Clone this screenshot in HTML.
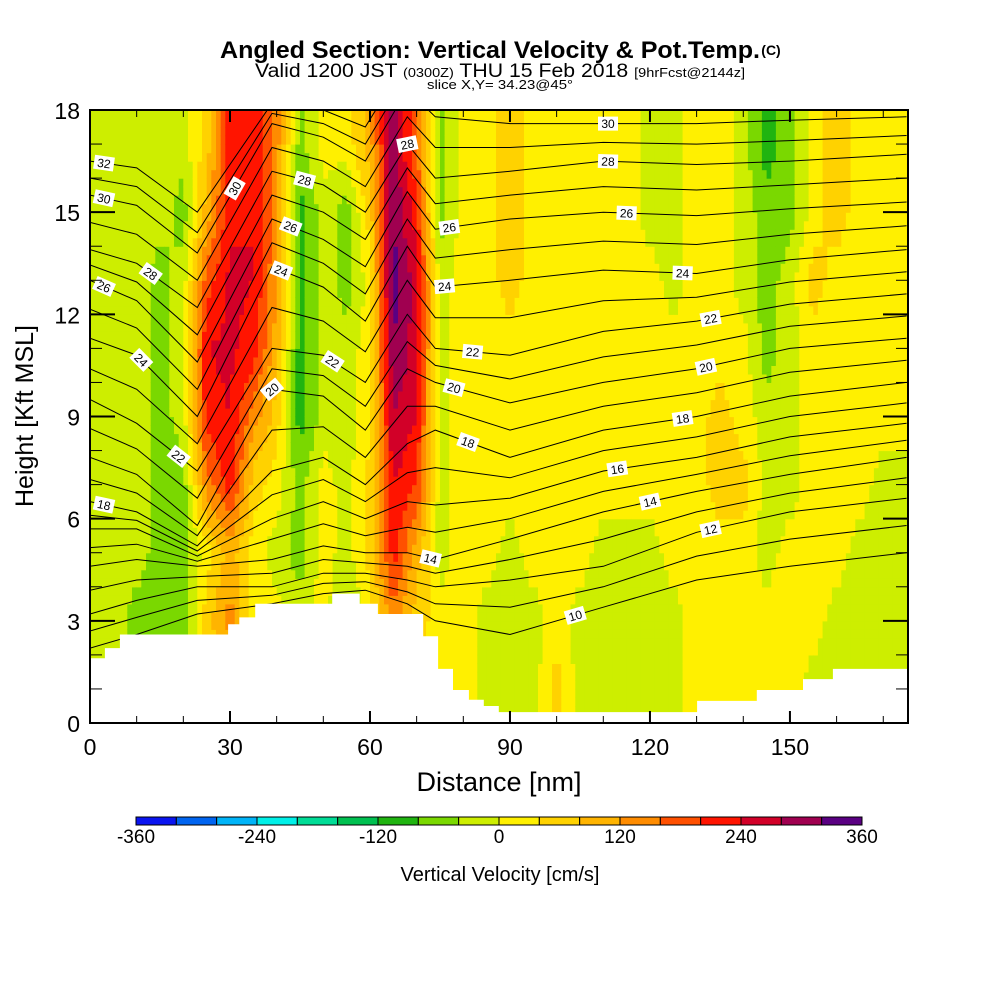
<!DOCTYPE html>
<html><head><meta charset="utf-8"><style>
body{margin:0;background:#fff;width:1000px;height:1000px;overflow:hidden;font-family:"Liberation Sans",sans-serif}
svg text{font-family:"Liberation Sans",sans-serif}
</style></head><body>
<svg id="chart" width="1000" height="1000" viewBox="0 0 1000 1000" xmlns="http://www.w3.org/2000/svg">
<rect width="1000" height="1000" fill="#fff"/>
<text x="490" y="58" font-size="24" font-weight="bold" text-anchor="middle" textLength="540" lengthAdjust="spacingAndGlyphs">Angled Section: Vertical Velocity &amp; Pot.Temp.</text>
<text x="771" y="55" font-size="14" font-weight="bold" text-anchor="middle">(C)</text>
<text x="500" y="77" font-size="19" text-anchor="middle" textLength="490" lengthAdjust="spacingAndGlyphs">Valid 1200 JST <tspan font-size="13">(0300Z)</tspan> THU 15 Feb 2018 <tspan font-size="13">[9hrFcst@2144z]</tspan></text>
<text x="500" y="89" font-size="13" text-anchor="middle" textLength="146" lengthAdjust="spacingAndGlyphs">slice X,Y= 34.23@45°</text>
<defs><clipPath id="pc"><rect x="90" y="110" width="818" height="613"/></clipPath></defs>
<g id="field" clip-path="url(#pc)"></g>
<g id="contours" clip-path="url(#pc)"></g>
<g id="terrain" clip-path="url(#pc)"></g>
<g id="labels" clip-path="url(#pc)"></g>
<rect x="90" y="110" width="818" height="613" fill="none" stroke="#000" stroke-width="2"/>
<g id="axes"></g>
<text x="499" y="791" font-size="27" text-anchor="middle">Distance [nm]</text>
<text x="0" y="0" font-size="25" text-anchor="middle" transform="translate(33,416) rotate(-90)">Height [Kft MSL]</text>
<g id="colorbar"></g>
<text x="500" y="881" font-size="20" text-anchor="middle">Vertical Velocity [cm/s]</text>
</svg>
<script>
// ---- data ----
const colX = [0,5,10,15,20,25,30,35,40,45,50,55,60,65,70,75,80,85,90,95,100,105,110,115,120,125,130,135,140,145,150,155,160,165,170,175];
const rowH = [1,3,5,7,9,11,13,15,17];
const wValues = [
[-20,-20,-20,-20,-20,-20,-20,-20,-20],
[-20,-20,-20,-20,-20,-20,-20,-20,-20],
[-60,-60,-20,-20,-20,-20,-20,-20,-20],
[-60,-60,-60,-60,-60,-60,-60,-20,-20],
[-60,-60,-60,-60,-20,-20,-20,-60,-20],
[20,60,20,140,220,240,180,100,60],
[60,140,100,220,240,250,250,230,220],
[20,20,20,60,140,220,240,240,240],
[20,20,-20,20,60,100,120,140,140],
[-20,-20,-60,-60,-100,-100,-100,-100,-60],
[20,20,20,20,-20,-20,-20,-20,20],
[-60,-60,-20,-20,-20,-20,-60,-60,20],
[20,20,60,60,20,20,20,60,100],
[60,140,220,240,280,320,340,320,300],
[20,60,100,200,240,260,260,220,160],
[20,20,-20,-20,-20,-20,-20,-60,-60],
[20,20,20,20,20,20,20,20,20],
[-20,-20,20,20,20,20,20,30,30],
[-20,-20,-20,20,20,20,60,60,60],
[-20,-20,20,20,20,20,20,30,30],
[60,20,20,20,20,20,20,20,20],
[-20,-20,20,20,20,20,20,20,20],
[-20,-20,-20,20,20,20,20,20,20],
[-20,-20,-20,20,20,20,20,20,20],
[-20,-20,-20,20,20,20,20,-20,-20],
[-20,-20,20,20,20,20,-20,-20,-20],
[20,20,20,20,20,20,20,20,20],
[20,20,20,60,60,20,20,20,20],
[20,20,20,60,20,20,-20,-20,-20],
[20,20,-20,-20,-20,-60,-60,-60,-100],
[20,20,20,-20,-20,-20,-20,-60,-60],
[-20,20,20,20,20,20,60,20,20],
[-20,-20,20,20,20,20,20,60,60],
[-20,-20,-20,20,20,20,20,20,30],
[-20,-20,-20,-20,20,20,20,20,20],
[-20,-20,-20,-20,20,20,20,20,20]];
const contourX = [0,10,23,39,50,59,68,74,90,110,130,150,175];
const thetaLevels = [32,30,28,26,24,22,20,18,16,14,12,10];
const thetaHeights = [
[16.5,16.3,15.0,18.2,18.0,17.5,19.5,19.5,19.2,19.2,19.2,19.2,19.2],
[15.5,15.2,13.8,17.6,17.2,16.5,18.6,17.8,17.6,17.6,17.6,17.7,17.8],
[13.9,13.5,12.2,16.2,15.8,15.0,17.0,16.0,16.2,16.5,16.4,16.5,16.7],
[13.0,12.4,10.6,14.8,14.2,13.4,15.6,14.5,14.8,15.0,14.9,15.1,15.3],
[11.3,10.8,9.0,13.4,12.8,11.8,14.0,12.8,13.0,13.3,13.2,13.6,13.9],
[9.5,8.8,7.4,11.0,10.8,10.0,12.0,11.0,10.8,11.5,11.8,12.3,12.6],
[7.8,7.3,5.8,9.8,9.6,8.6,10.4,10.0,9.4,10.0,10.4,11.0,11.3],
[6.5,6.2,5.2,7.4,7.8,7.0,8.2,8.6,7.8,8.6,9.0,9.6,10.0],
[5.7,5.7,4.9,6.0,6.5,6.0,6.5,6.4,6.6,7.4,7.8,8.4,8.8],
[4.6,4.8,4.6,4.8,5.2,5.0,5.0,4.8,5.4,6.2,6.8,7.3,7.8],
[3.2,3.6,4.0,4.0,4.4,4.4,4.2,4.0,4.2,4.6,5.6,6.2,6.6],
[2.2,2.6,3.2,3.5,3.8,3.9,3.5,3.0,2.6,3.4,4.2,4.6,5.0]];
const labelLevels = [32,30,28,26,24,22,18,30,28,26,24,20,22,28,26,24,22,20,18,14,30,28,26,24,22,20,18,16,14,12,10];
const labelX =      [3,3,13,3,11,19,3,31,46,43,41,39,52,68,77,76,82,78,81,73,111,111,115,127,133,132,127,113,120,133,104];
const terrainStartX = [0,3.2,6.4,29.6,32,35.4,51.9,57.8,61.7,71.4,74.6,77.8,81.2,84.4,87.6,130.1,142.9,152.8,159.2];
const terrainH =      [1.9,2.2,2.6,2.9,3.1,3.5,3.8,3.5,3.2,2.55,1.59,0.97,0.68,0.5,0.32,0.65,0.97,1.29,1.59];
const xTicks = [0,30,60,90,120,150];
const yTicks = [0,3,6,9,12,15,18];
const cbTicks = [-360,-240,-120,0,120,240,360];
const cbColors = ["#0a14f0","#0064f0","#00b4f8","#00f0e8","#00dc96","#00c050","#20b410","#7ad800","#cdee00","#fff000","#ffd200","#ffb400","#ff8c00","#ff5000","#ff1400","#d20028","#a00050","#5a0082"];
// ---- scales ----
const NS="http://www.w3.org/2000/svg";
const X0=90,X1=908,Y0=723,Y1=110,XMAX=175.3,HMAX=18;
const sx=v=>X0+v*(X1-X0)/XMAX, sy=h=>Y0-h*(Y0-Y1)/HMAX;
function mk(tag,attrs,parent){const e=document.createElementNS(NS,tag);for(const k in attrs)e.setAttribute(k,attrs[k]);parent.appendChild(e);return e;}
function colorFor(v){let i=Math.floor((v+360)/40);i=Math.max(0,Math.min(17,i));return cbColors[i];}
function interp1(xs,ys,x){if(x<=xs[0])return ys[0];for(let i=1;i<xs.length;i++){if(x<=xs[i]){const t=(x-xs[i-1])/(xs[i]-xs[i-1]);return ys[i-1]+t*(ys[i]-ys[i-1]);}}return ys[ys.length-1];}
// ---- field ----
const field=document.getElementById('field');
const dx=1,dh=0.25;
for(let x=0;x<XMAX;x+=dx){
  const colVals=rowH.map((_,j)=>interp1(colX,wValues.map(c=>c[j]),x+dx/2));
  for(let h=0;h<HMAX;h+=dh){
    const v=interp1(rowH,colVals,h+dh/2);
    const r=mk('rect',{x:sx(x).toFixed(1),y:sy(h+dh).toFixed(1),width:(sx(x+dx)-sx(x)+0.6).toFixed(1),height:(sy(h)-sy(h+dh)+0.6).toFixed(1),fill:colorFor(v)},field);
    
    
  }
}
// ---- contours ----
const cg=document.getElementById('contours');
function levelHeights(lv){const i=thetaLevels.indexOf(lv);if(i>=0)return thetaHeights[i];
  const a=thetaHeights[thetaLevels.indexOf(lv+1)],b=thetaHeights[thetaLevels.indexOf(lv-1)];
  if(!a||!b)return null;return a.map((v,k)=>(v+b[k])/2);}
for(let lv=9;lv<=32;lv++){
  const hs=levelHeights(lv);if(!hs)continue;
  const pts=contourX.map((x,k)=>sx(x).toFixed(1)+','+sy(hs[k]).toFixed(1)).join(' ');
  const p=mk('polyline',{points:pts,fill:'none',stroke:'#000','stroke-width':1},cg);
  
  
}
// ---- terrain ----
const tg=document.getElementById('terrain');
let d='M'+sx(0)+','+sy(0);
terrainStartX.forEach((x,i)=>{const x2=i+1<terrainStartX.length?terrainStartX[i+1]:XMAX;d+=' L'+sx(x).toFixed(1)+','+sy(terrainH[i]).toFixed(1)+' L'+sx(x2).toFixed(1)+','+sy(terrainH[i]).toFixed(1);});
d+=' L'+sx(XMAX)+','+sy(0)+' Z';
const tp=mk('path',{d:d,fill:'#fff',stroke:'none'},tg);


// ---- contour labels ----
const lg=document.getElementById('labels');
labelLevels.forEach((lv,i)=>{
  const hs=levelHeights(lv);const x=labelX[i];
  const h=interp1(contourX,hs,x);
  const px=sx(x),py=sy(h);
  const slope=(sy(interp1(contourX,hs,x+1))-sy(interp1(contourX,hs,x-1)))/(sx(x+1)-sx(x-1));
  let ang=Math.atan(slope)*180/Math.PI;
  const g=mk('g',{transform:`translate(${px.toFixed(1)},${py.toFixed(1)}) rotate(${ang.toFixed(1)})`},lg);
  
  
  mk('rect',{x:-10,y:-7,width:20,height:14,fill:'#fff'},g);
  const t=mk('text',{x:0,y:4.5,'font-size':12,'text-anchor':'middle',fill:'#000'},g);t.textContent=lv;
});
// ---- axes ----
const ax=document.getElementById('axes');
for(let v=0;v<=170;v+=10){const major=v%30===0;const L=major?12:7;
  const l=mk('line',{x1:sx(v),x2:sx(v),y1:Y0,y2:Y0-L,stroke:'#000','stroke-width':major?2:1},ax);
  
  const l2=mk('line',{x1:sx(v),x2:sx(v),y1:Y1,y2:Y1+L,stroke:'#000','stroke-width':major?2:1},ax);
  }
for(let v=0;v<=18;v++){const major=v%3===0;const L=major?25:12;
  const l=mk('line',{x1:X0,x2:X0+L,y1:sy(v),y2:sy(v),stroke:'#000','stroke-width':major?2:1},ax);
  
  const l2=mk('line',{x1:X1,x2:X1-L,y1:sy(v),y2:sy(v),stroke:'#000','stroke-width':major?2:1},ax);
  }
xTicks.forEach(v=>{const t=mk('text',{x:sx(v),y:755,'font-size':23,'text-anchor':'middle'},ax);t.textContent=v;
  });
yTicks.forEach(v=>{const t=mk('text',{x:80,y:sy(v)+9,'font-size':23,'text-anchor':'end'},ax);t.textContent=v;
  });
// ---- colorbar ----
const cb=document.getElementById('colorbar');
const CB0=136,CB1=862,CBY=817,CBH=8;const cw=(CB1-CB0)/cbColors.length;
cbColors.forEach((c,i)=>{const r=mk('rect',{x:CB0+i*cw,y:CBY,width:cw,height:CBH,fill:c,stroke:'#000','stroke-width':1},cb);
  });
cbTicks.forEach(v=>{const t=mk('text',{x:CB0+(v+360)/720*(CB1-CB0),y:843,'font-size':19,'text-anchor':'middle'},cb);t.textContent=v;
  });
</script>
</body></html>
